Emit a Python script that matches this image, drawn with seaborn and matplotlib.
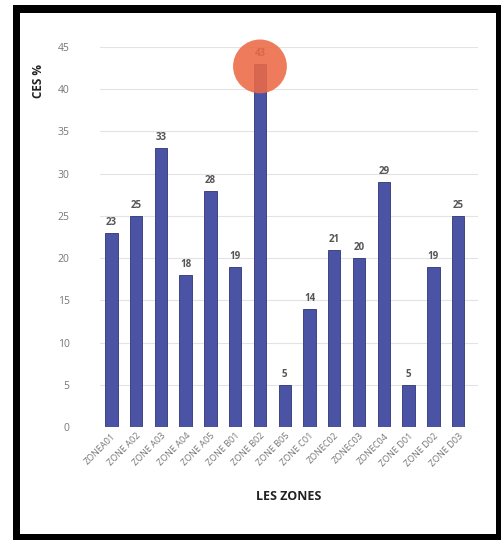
import matplotlib
matplotlib.use("Agg")
import matplotlib.pyplot as plt
import seaborn as sns
import pandas as pd
from matplotlib.patches import Rectangle

zones = ['ZONEA01', 'ZONE A02', 'ZONE A03', 'ZONE A04', 'ZONE A05', 'ZONE B01',
         'ZONE B02', 'ZONE B05', 'ZONE C01', 'ZONEC02', 'ZONEC03', 'ZONEC04',
         'ZONE D01', 'ZONE D02', 'ZONE D03']
ces = [23, 25, 33, 18, 28, 19, 43, 5, 14, 21, 20, 29, 5, 19, 25]
highlight_zone = 'ZONE B02'

sns.set_style("white")
plt.rcParams['font.family'] = ['Open Sans', 'DejaVu Sans']

df = pd.DataFrame({'zone': zones, 'ces': ces})

W, H = 501, 540
fig = plt.figure(figsize=(W / 100, H / 100), dpi=100)
ax = fig.add_axes([0.20, 0.209, 0.754, 0.704])

sns.barplot(data=df, x='zone', y='ces', color='#4b54a4', saturation=1,
            width=0.5, edgecolor='#2f3574', linewidth=0.6, ax=ax, zorder=2)

# value labels
for i, v in enumerate(ces):
    ax.text(i, v + 0.6, str(v), ha='center', va='bottom', fontsize=7,
            fontweight='bold', color='#555555', zorder=3)

# red highlight circle on the max zone
hi = zones.index(highlight_zone)
ax.scatter([hi], [ces[hi] - 0.3], s=1500, color='#ec6a45', alpha=0.88,
           edgecolor='none', zorder=4, clip_on=False)

ax.set_ylim(0, 45)
ax.set_xlim(-0.45, 14.8)
ax.set_yticks(range(0, 46, 5))
ax.yaxis.grid(True, color='#e3e3e3', linewidth=0.8, zorder=0)
ax.set_axisbelow(True)
for s in ax.spines.values():
    s.set_visible(False)
ax.tick_params(axis='y', labelsize=7.5, colors='#777777', length=0, pad=22)
ax.tick_params(axis='x', labelsize=6.5, colors='#777777', length=0, pad=3)
plt.setp(ax.get_xticklabels(), rotation=45, ha='right', rotation_mode='anchor')

ax.set_ylabel('CES %', fontsize=8.5, fontweight='bold', color='#222222')
ax.yaxis.set_label_coords(-0.145, 0.91)
ax.set_xlabel('LES ZONES', fontsize=9, fontweight='bold', color='#222222',
              labelpad=16)

# black frame (pixel boxes: x0, y0 from bottom, w, h)
for x0, y0, w, h in [(13, 527, 488, 8), (13, 0, 7, 535),
                     (496, 0, 5, 535), (13, 0, 488, 6)]:
    fig.patches.append(Rectangle((x0 / W, y0 / H), w / W, h / H,
                                 transform=fig.transFigure,
                                 facecolor='black', edgecolor='none'))

fig.savefig('out.png', dpi=100)
